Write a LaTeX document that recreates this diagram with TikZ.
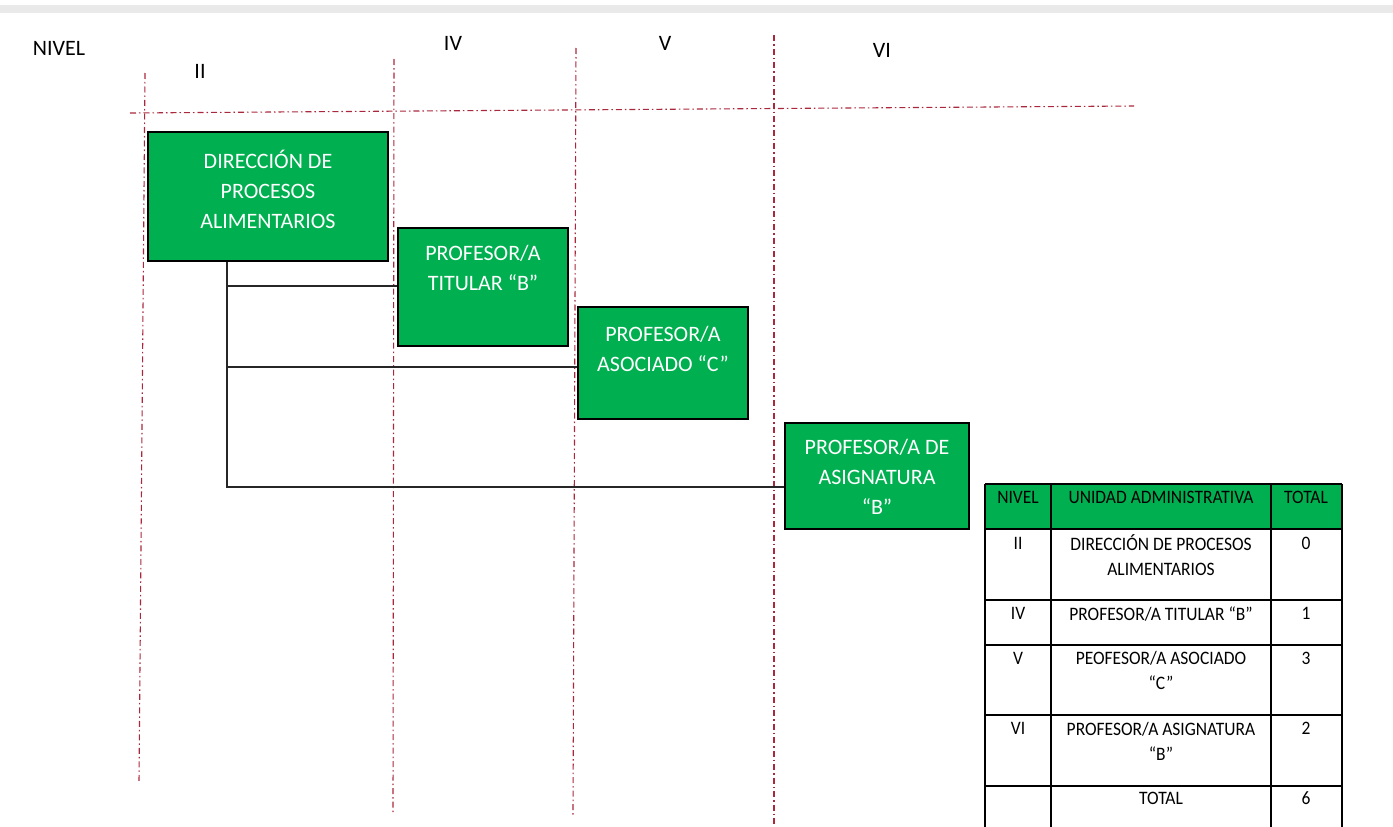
\documentclass[tikz,border=0pt]{standalone}
\usepackage{fontspec}
\setmainfont{Carlito}
\newfontfamily\tblfont[FakeStretch=0.92]{Carlito}
\definecolor{boxgreen}{HTML}{00B050}
\definecolor{guide}{RGB}{170,40,60}
\begin{document}
\begin{tikzpicture}[x=1pt,y=-1pt,
  guideline/.style={draw=guide, line width=1.1pt, dash pattern=on 6pt off 3pt on 1.5pt off 3pt},
  orgbox/.style={draw=black, line width=1.2pt, fill=boxgreen, rectangle, inner sep=0pt},
  boxtext/.style={text=white, font=\fontsize{22}{30}\selectfont, align=center, inner sep=0pt},
  lvl/.style={text=black, font=\fontsize{22}{26}\selectfont, inner sep=0pt},
  conn/.style={draw=black!85, line width=1.1pt},
  tbl/.style={text=black, font=\tblfont\fontsize{19}{25}\selectfont, align=center, inner sep=0pt},
  tblline/.style={draw=black, line width=1.3pt}
]
\useasboundingbox (0,0) rectangle (1393,827);
\fill[gray!17] (0,5) rectangle (1393,13);

% guide lines
\coordinate (g1t) at (145,73);  \coordinate (g1b) at (139,783);
\coordinate (g2t) at (394,59);  \coordinate (g2b) at (393,812);
\coordinate (g3t) at (576,48);  \coordinate (g3b) at (573,815);
\coordinate (g4t) at (774,35);  \coordinate (g4b) at (774,827);
\coordinate (hl) at (130,113);  \coordinate (hr) at (1134,106);
\draw[guideline] (g1t) -- (g1b);
\draw[guideline] (g2t) -- (g2b);
\draw[guideline] (g3t) -- (g3b);
\draw[guideline] (g4t) -- (g4b);
\draw[guideline] (hl) -- (hr);

% level labels
\node[lvl] (nivel) at (59,48) {NIVEL};
\node[lvl] (lII) at (200,71) {II};
\node[lvl] (lIV) at (453,43) {IV};
\node[lvl] (lV) at (665,43) {V};
\node[lvl] (lVI) at (882,50) {VI};

% boxes
\node[orgbox, minimum width=240pt, minimum height=129pt] (b1) at (268,196.5) {};
\node[orgbox, minimum width=170pt, minimum height=118pt] (b2) at (483,287) {};
\node[orgbox, minimum width=170pt, minimum height=112pt] (b3) at (663,363) {};
\node[orgbox, minimum width=184pt, minimum height=106pt] (b4) at (877,476) {};
\node[boxtext] (t1) at (268,189) {DIRECCIÓN DE\\PROCESOS\\ALIMENTARIOS};
\node[boxtext] (t2) at (483,268) {PROFESOR/A\\TITULAR “B”};
\node[boxtext] (t3) at (663,348.5) {PROFESOR/A\\ASOCIADO “C”};
\node[boxtext] (t4) at (877,477) {PROFESOR/A DE\\ASIGNATURA\\“B”};

% connectors
\coordinate (j1) at (227,286);
\coordinate (j2) at (227,367);
\coordinate (j3) at (227,487);
\draw[conn] (b1.south -| j3) -- (j3) -- (j3 -| b4.west);
\draw[conn] (j1) -- (j1 -| b2.west);
\draw[conn] (j2) -- (j2 -| b3.west);

% table
\fill[boxgreen] (985,484) rectangle (1342,529);
\foreach \yy in {484,529,600,645,715,786} {
  \draw[tblline] (985,\yy) -- (1342,\yy);
}
\foreach \xx in {985,1051,1271,1342} {
  \draw[tblline] (\xx,484) -- (\xx,830);
}
\node[tbl] (h1) at (1018,497) {NIVEL};
\node[tbl] (h2) at (1161,497) {UNIDAD ADMINISTRATIVA};
\node[tbl] (h3) at (1306,497) {TOTAL};
\node[tbl] (r1a) at (1018,543) {II};
\node[tbl] (r1b) at (1161,555.5) {DIRECCIÓN DE PROCESOS\\ALIMENTARIOS};
\node[tbl] (r1c) at (1306,543) {0};
\node[tbl] (r2a) at (1018,613) {IV};
\node[tbl] (r2b) at (1161,614) {PROFESOR/A TITULAR “B”};
\node[tbl] (r2c) at (1306,613) {1};
\node[tbl] (r3a) at (1018,658) {V};
\node[tbl] (r3b) at (1161,670.5) {PEOFESOR/A ASOCIADO\\“C”};
\node[tbl] (r3c) at (1306,658) {3};
\node[tbl] (r4a) at (1018,728) {VI};
\node[tbl] (r4b) at (1161,741.5) {PROFESOR/A ASIGNATURA\\“B”};
\node[tbl] (r4c) at (1306,728) {2};
\node[tbl] (r5b) at (1161,798) {TOTAL};
\node[tbl] (r5c) at (1306,798) {6};
\end{tikzpicture}
\end{document}
